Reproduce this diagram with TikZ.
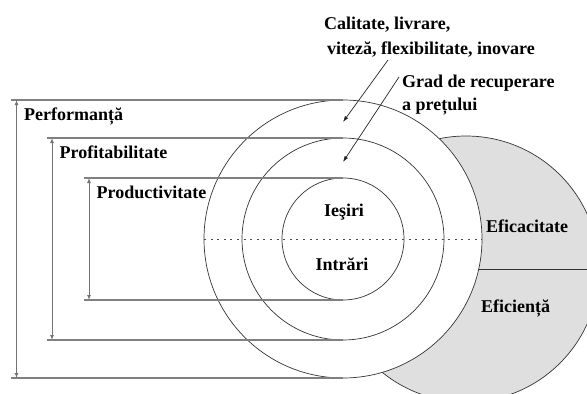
\documentclass[tikz,border=0pt]{standalone}
\usepackage{fontspec}
\setmainfont{Liberation Serif}
\usetikzlibrary{arrows.meta,calc}
\begin{document}
\begin{tikzpicture}[x=1pt, y=-1pt,
    ring/.style = {circle, draw=black!80, line width=0.7pt, fill=white, inner sep=0pt, outer sep=0pt},
    hline/.style = {draw=black!50, line width=1.2pt},
    dim/.style = {draw=black!55, line width=1pt, {Latex[length=5pt,width=4pt]}-{Latex[length=5pt,width=4pt]}},
    ptr/.style = {draw=black!85, line width=0.7pt, -{Latex[length=6pt,width=4pt]}},
    every node/.style = {font=\bfseries\fontsize{18}{24.5}\selectfont, inner sep=0pt}]

  \useasboundingbox (0,0) rectangle (587,394);
  \clip (0,0) rectangle (587,394);

  \node[ring, fill=gray!25, minimum size=266pt] (eff) at (466,269) {};
  \draw[draw=black!80, line width=0.7pt] (eff.west) -- (eff.east);
  \node[ring, minimum size=278pt] (outer) at (343,239) {};
  \node[ring, minimum size=202pt] (middle) at (343,239) {};
  \node[ring, minimum size=122pt] (inner) at (343,239) {};
  \draw[black!70, line width=1pt, dash pattern=on 2pt off 4.6pt] (outer.west) -- (outer.east);

  \foreach \ring/\ax/\txt in {outer/16.5/Performanță, middle/52/Profitabilitate, inner/89/Productivitate}{
    \coordinate (ax) at (\ax,0);
    \draw[hline] ($(ax |- \ring.north)+(-5.5,0)$) -- (\ring.north);
    \draw[hline] ($(ax |- \ring.south)+(-5.5,0)$) -- (\ring.south);
    \draw[dim] (ax |- \ring.north) -- (ax |- \ring.south);
    \node[anchor=base west] at ($(ax |- \ring.north)+(7.5,20)$) {\txt};
  }

  \node[anchor=base] (out) at (344,216.7) {Ieşiri};
  \node[anchor=base] (in) at (342,270) {Intrări};
  \node[anchor=base west] (efc) at (486,232.7) {Eficacitate};
  \node[anchor=base west] (efn) at (481,312.7) {Eficiență};

  \node[anchor=base west, align=left] (qual) at (324,54)
    {Calitate, livrare,\\\hspace*{3pt}viteză, flexibilitate, inovare};
  \node[anchor=base west, align=left, font=\bfseries\fontsize{18}{22.7}\selectfont] (price) at (402,110)
    {Grad de recuperare\\a prețului};
  \coordinate (q1) at (343,122);
  \coordinate (q2) at (343,162);
  \draw[ptr] ($(qual.base west)+(64,6)$) -- (q1);
  \draw[ptr] ($(price.base west)+(-3,-33)$) -- (q2);

\end{tikzpicture}
\end{document}
